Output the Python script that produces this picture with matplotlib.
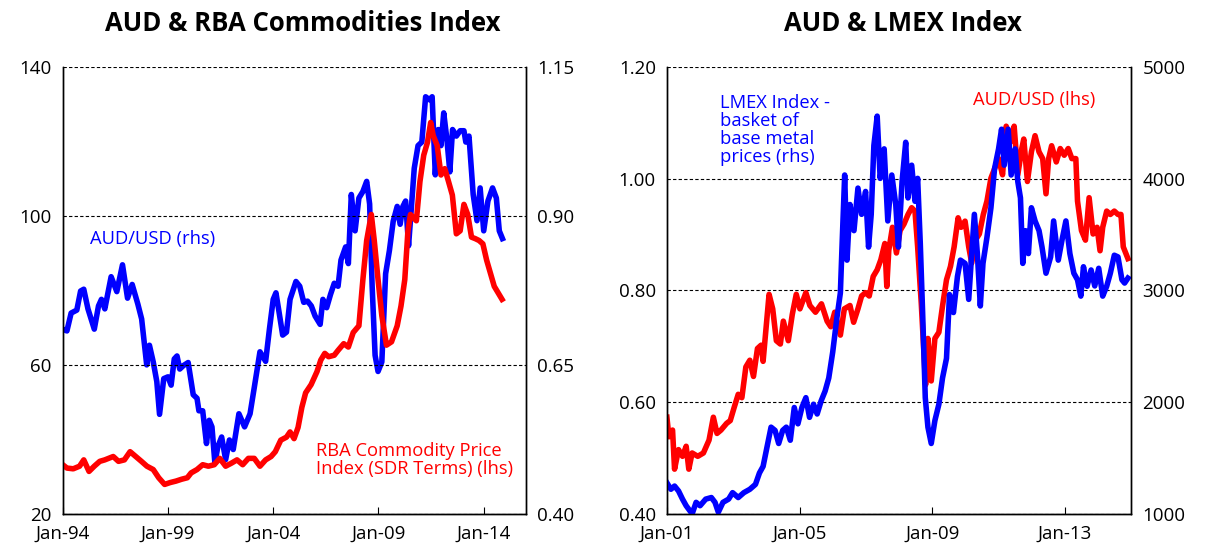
"""
AUD vs commodity prices: two panels with twin axes.
"""
import numpy as np
import matplotlib.pyplot as plt

# ---- left panel: AUD/USD (rhs) and RBA commodity price index (lhs) ----
rba_aud_years = [
    1994.0, 1994.2, 1994.4, 1994.67, 1994.85, 1995.0, 1995.2, 1995.5, 1995.7, 1995.84,
    1996.0, 1996.3, 1996.57, 1996.84, 1997.08, 1997.3, 1997.57, 1997.75, 1997.99, 1998.12,
    1998.3, 1998.47, 1998.6, 1998.8, 1999.0, 1999.15, 1999.3, 1999.43, 1999.56, 1999.74,
    1999.96, 2000.2, 2000.38, 2000.47, 2000.65, 2000.83, 2000.96, 2001.09, 2001.23, 2001.37,
    2001.55, 2001.74, 2001.92, 2002.1, 2002.37, 2002.64, 2002.9, 2003.1, 2003.37, 2003.64,
    2003.82, 2004.0, 2004.13, 2004.28, 2004.45, 2004.63, 2004.8, 2005.08, 2005.26, 2005.45,
    2005.63, 2005.81, 2005.99, 2006.23, 2006.36, 2006.54, 2006.72, 2006.9, 2007.08, 2007.22,
    2007.44, 2007.57, 2007.71, 2007.89, 2008.07, 2008.26, 2008.44, 2008.58, 2008.7, 2008.84,
    2008.98, 2009.16, 2009.34, 2009.52, 2009.7, 2009.89, 2010.03, 2010.16, 2010.29, 2010.43,
    2010.52, 2010.7, 2010.88, 2011.06, 2011.24, 2011.42, 2011.55, 2011.7, 2011.84, 2011.97,
    2012.1, 2012.25, 2012.39, 2012.52, 2012.7, 2012.88, 2013.06, 2013.15, 2013.3, 2013.5,
    2013.68, 2013.83, 2014.0, 2014.2, 2014.42, 2014.6, 2014.74, 2014.89,
]
rba_aud_values = [
    0.710, 0.707, 0.737, 0.742, 0.774, 0.777, 0.744, 0.710, 0.749, 0.760,
    0.744, 0.798, 0.773, 0.818, 0.762, 0.785, 0.752, 0.727, 0.650, 0.683,
    0.655, 0.622, 0.567, 0.627, 0.630, 0.616, 0.660, 0.665, 0.643, 0.649,
    0.654, 0.600, 0.594, 0.573, 0.573, 0.518, 0.557, 0.546, 0.485, 0.513,
    0.529, 0.491, 0.524, 0.508, 0.568, 0.546, 0.568, 0.612, 0.672, 0.656,
    0.710, 0.760, 0.771, 0.738, 0.700, 0.705, 0.760, 0.790, 0.782, 0.755,
    0.757, 0.749, 0.732, 0.718, 0.760, 0.746, 0.768, 0.787, 0.782, 0.826,
    0.848, 0.820, 0.936, 0.875, 0.930, 0.941, 0.958, 0.920, 0.782, 0.666,
    0.639, 0.655, 0.803, 0.842, 0.891, 0.916, 0.886, 0.916, 0.925, 0.850,
    0.893, 0.980, 1.018, 1.024, 1.100, 1.095, 1.100, 0.969, 1.045, 1.018,
    1.073, 1.029, 0.974, 1.045, 1.034, 1.043, 1.043, 1.024, 1.034, 0.936,
    0.892, 0.947, 0.875, 0.925, 0.947, 0.930, 0.875, 0.862,
]

rba_cpi_years = [
    1994.0, 1994.2, 1994.5, 1994.8, 1995.0, 1995.25, 1995.5, 1995.76, 1996.0, 1996.4,
    1996.65, 1996.93, 1997.2, 1997.47, 1997.74, 1998.0, 1998.3, 1998.56, 1998.84, 1999.1,
    1999.38, 1999.65, 1999.92, 2000.1, 2000.38, 2000.65, 2000.92, 2001.2, 2001.46, 2001.74,
    2002.01, 2002.28, 2002.55, 2002.82, 2003.1, 2003.37, 2003.64, 2003.9, 2004.1, 2004.36,
    2004.63, 2004.8, 2004.99, 2005.18, 2005.36, 2005.54, 2005.8, 2006.08, 2006.26, 2006.45,
    2006.63, 2006.9, 2007.08, 2007.35, 2007.57, 2007.8, 2008.07, 2008.26, 2008.44, 2008.66,
    2008.8, 2008.98, 2009.16, 2009.38, 2009.62, 2009.89, 2010.07, 2010.25, 2010.4, 2010.52,
    2010.8, 2010.97, 2011.15, 2011.33, 2011.48, 2011.6, 2011.79, 2011.97, 2012.15, 2012.33,
    2012.51, 2012.7, 2012.88, 2013.06, 2013.24, 2013.42, 2013.6, 2013.78, 2013.96, 2014.14,
    2014.32, 2014.5, 2014.68, 2014.87,
]
rba_cpi_values = [
    33.2, 32.3, 32.1, 32.8, 34.5, 31.4, 32.8, 34.1, 34.5, 35.4,
    34.1, 34.5, 36.7, 35.4, 34.1, 32.8, 31.9, 29.7, 27.9, 28.4,
    28.8, 29.3, 29.7, 31.0, 31.9, 33.2, 32.8, 33.2, 34.9, 32.8,
    33.6, 34.5, 33.2, 34.9, 34.9, 32.8, 34.5, 35.4, 36.7, 39.8,
    40.6, 42.0, 40.2, 43.2, 48.6, 52.5, 54.7, 58.2, 61.3, 63.1,
    62.2, 62.6, 63.9, 65.7, 64.8, 68.7, 70.5, 82.9, 93.4, 100.4,
    93.4, 82.9, 73.2, 65.3, 66.2, 70.5, 75.8, 82.9, 96.0, 100.4,
    98.7, 109.2, 116.3, 119.8, 125.1, 121.6, 118.9, 111.0, 112.7, 109.2,
    105.6, 95.2, 96.0, 103.1, 100.4, 94.3, 93.9, 93.4, 92.5, 88.1,
    84.6, 81.1, 79.4, 77.6,
]

# ---- right panel: AUD/USD (lhs) and LMEX index (rhs) ----
lmex_aud_years = [
    2001.0, 2001.06, 2001.17, 2001.23, 2001.35, 2001.47, 2001.58, 2001.66, 2001.76, 2001.93,
    2002.1, 2002.27, 2002.4, 2002.51, 2002.63, 2002.8, 2002.91, 2003.03, 2003.15, 2003.26,
    2003.38, 2003.5, 2003.61, 2003.73, 2003.84, 2003.9, 2004.08, 2004.19, 2004.3, 2004.42,
    2004.51, 2004.66, 2004.78, 2004.9, 2005.01, 2005.19, 2005.31, 2005.48, 2005.66, 2005.83,
    2005.94, 2006.06, 2006.23, 2006.35, 2006.52, 2006.63, 2006.76, 2006.87, 2006.99, 2007.1,
    2007.22, 2007.34, 2007.45, 2007.57, 2007.63, 2007.69, 2007.8, 2007.92, 2008.03, 2008.15,
    2008.27, 2008.38, 2008.48, 2008.56, 2008.67, 2008.8, 2008.87, 2008.97, 2009.08, 2009.2,
    2009.31, 2009.43, 2009.55, 2009.66, 2009.78, 2009.87, 2009.99, 2010.1, 2010.19, 2010.3,
    2010.42, 2010.54, 2010.65, 2010.77, 2010.88, 2011.0, 2011.12, 2011.23, 2011.35, 2011.47,
    2011.58, 2011.7, 2011.76, 2011.87, 2011.99, 2012.1, 2012.22, 2012.33, 2012.43, 2012.51,
    2012.6, 2012.74, 2012.86, 2012.98, 2013.1, 2013.21, 2013.33, 2013.38, 2013.5, 2013.62,
    2013.73, 2013.85, 2013.97, 2014.06, 2014.14, 2014.26, 2014.37, 2014.49, 2014.6, 2014.69,
    2014.76, 2014.84, 2014.9,
]
lmex_aud_values = [
    0.573, 0.538, 0.550, 0.480, 0.515, 0.503, 0.521, 0.480, 0.509, 0.503,
    0.509, 0.532, 0.573, 0.544, 0.550, 0.562, 0.567, 0.591, 0.614, 0.608,
    0.663, 0.675, 0.646, 0.696, 0.702, 0.673, 0.793, 0.767, 0.710, 0.704,
    0.745, 0.710, 0.757, 0.793, 0.767, 0.796, 0.773, 0.761, 0.776, 0.745,
    0.735, 0.761, 0.720, 0.767, 0.773, 0.743, 0.767, 0.790, 0.796, 0.790,
    0.825, 0.837, 0.855, 0.884, 0.807, 0.872, 0.913, 0.867, 0.907, 0.919,
    0.936, 0.948, 0.942, 0.878, 0.776, 0.631, 0.714, 0.638, 0.714, 0.725,
    0.772, 0.819, 0.843, 0.878, 0.930, 0.913, 0.924, 0.878, 0.849, 0.890,
    0.901, 0.936, 0.960, 1.001, 1.018, 1.036, 1.007, 1.094, 1.065, 1.094,
    1.007, 1.054, 1.071, 0.995, 1.048, 1.077, 1.048, 1.036, 0.973, 1.036,
    1.059, 1.030, 1.054, 1.042, 1.054, 1.036, 1.036, 0.960, 0.907, 0.890,
    0.966, 0.901, 0.913, 0.871, 0.913, 0.942, 0.936, 0.942, 0.936, 0.936,
    0.878, 0.866, 0.857,
]

lmex_years = [
    2001.0, 2001.12, 2001.23, 2001.35, 2001.47, 2001.58, 2001.76, 2001.88, 2002.0, 2002.17,
    2002.34, 2002.45, 2002.55, 2002.69, 2002.86, 2002.98, 2003.15, 2003.32, 2003.5, 2003.67,
    2003.79, 2003.9, 2004.02, 2004.14, 2004.26, 2004.37, 2004.49, 2004.6, 2004.72, 2004.84,
    2004.95, 2005.07, 2005.19, 2005.3, 2005.42, 2005.53, 2005.65, 2005.77, 2005.88, 2006.0,
    2006.12, 2006.23, 2006.29, 2006.36, 2006.43, 2006.52, 2006.64, 2006.76, 2006.87, 2006.99,
    2007.08, 2007.16, 2007.24, 2007.34, 2007.43, 2007.55, 2007.66, 2007.78, 2007.9, 2007.98,
    2008.09, 2008.2, 2008.27, 2008.38, 2008.48, 2008.56, 2008.64, 2008.71, 2008.79, 2008.87,
    2008.97, 2009.08, 2009.2, 2009.31, 2009.43, 2009.52, 2009.64, 2009.76, 2009.85, 2009.99,
    2010.1, 2010.19, 2010.27, 2010.36, 2010.45, 2010.53, 2010.65, 2010.77, 2010.88, 2011.0,
    2011.09, 2011.17, 2011.29, 2011.38, 2011.5, 2011.58, 2011.66, 2011.73, 2011.81, 2011.9,
    2011.99, 2012.1, 2012.22, 2012.31, 2012.43, 2012.57, 2012.66, 2012.8, 2012.91, 2013.03,
    2013.15, 2013.27, 2013.38, 2013.48, 2013.56, 2013.67, 2013.79, 2013.9, 2014.02, 2014.14,
    2014.26, 2014.37, 2014.49, 2014.6, 2014.72, 2014.8, 2014.9,
]
lmex_values = [
    1278, 1220, 1249, 1205, 1132, 1073, 1000, 1103, 1073, 1132,
    1146, 1103, 1015, 1103, 1132, 1190, 1146, 1190, 1220, 1264,
    1366, 1425, 1601, 1776, 1747, 1630, 1747, 1776, 1659, 1952,
    1806, 1952, 2040, 1864, 1981, 1894, 2011, 2099, 2216, 2450,
    2743, 2978, 3476, 4033, 3271, 3769, 3535, 3916, 3681, 3886,
    3388, 3681, 4297, 4560, 4003, 4267, 3622, 4033, 3769, 3388,
    3974, 4326, 3828, 4121, 3798, 4003, 3417, 2802, 2040, 1776,
    1630, 1835, 1981, 2216, 2392, 2963, 2802, 3124, 3271, 3242,
    2920, 3330, 3681, 3330, 2861, 3242, 3476, 3740, 4091, 4267,
    4443, 4121, 4443, 4033, 4267, 3974, 3828, 3242, 3535, 3330,
    3740, 3622, 3535, 3388, 3154, 3300, 3622, 3271, 3447, 3622,
    3330, 3154, 3095, 2949, 3212, 3037, 3183, 3040, 3198, 2949,
    3037, 3154, 3315, 3300, 3095, 3066, 3110,
]

left_xticks = [1994, 1999, 2004, 2009, 2014]
left_xtick_labels = ['Jan-94', 'Jan-99', 'Jan-04', 'Jan-09', 'Jan-14']
left_lhs_ticks = [20, 60, 100, 140]
left_rhs_ticks = [0.40, 0.65, 0.90, 1.15]

right_xticks = [2001, 2005, 2009, 2013]
right_xtick_labels = ['Jan-01', 'Jan-05', 'Jan-09', 'Jan-13']
right_lhs_ticks = [0.40, 0.60, 0.80, 1.00, 1.20]
right_rhs_ticks = [1000, 2000, 3000, 4000, 5000]

BLUE = '#0000FF'
RED = '#FF0000'
LW = 4.0
FONT = ['Open Sans', 'DejaVu Sans']
TICK_SIZE = 13.5
NOTE_SIZE = 13.2


def style_axes(ax, ax2):
    """Spines, ticks and dashed grid shared by both panels."""
    ax.spines['top'].set_visible(False)
    ax2.spines['top'].set_visible(False)
    for sp in ['left', 'right', 'bottom']:
        ax.spines[sp].set_linewidth(1.0)
        ax2.spines[sp].set_linewidth(1.0)
    ax.tick_params(axis='x', direction='in', length=5, labelsize=TICK_SIZE, pad=8)
    ax.tick_params(axis='y', length=0, labelsize=TICK_SIZE, pad=8)
    ax2.tick_params(axis='y', length=0, labelsize=TICK_SIZE, pad=8)
    ax.yaxis.grid(True, linestyle=(0, (3, 2)), color='black', linewidth=0.8)
    ax.set_axisbelow(True)


plt.rcParams['font.family'] = FONT
fig = plt.figure(figsize=(12.06, 5.49), dpi=100)

# ---- left panel ----
ax1 = fig.add_axes([0.052, 0.064, 0.384, 0.814])
ax1b = ax1.twinx()
# red series sits above the blue one in this panel
ax1.set_zorder(ax1b.get_zorder() + 1)
ax1.patch.set_visible(False)
ax1.plot(rba_cpi_years, rba_cpi_values, color=RED, lw=LW, solid_joinstyle='round')
ax1b.plot(rba_aud_years, rba_aud_values, color=BLUE, lw=LW, solid_joinstyle='round')
ax1.set_xlim(1994, 2016)
ax1.set_ylim(20, 140)
ax1b.set_ylim(0.40, 1.15)
ax1.set_xticks(left_xticks)
ax1.set_xticklabels(left_xtick_labels)
ax1.set_yticks(left_lhs_ticks)
ax1.set_yticklabels([str(v) for v in left_lhs_ticks])
ax1b.set_yticks(left_rhs_ticks)
ax1b.set_yticklabels(['%.2f' % v for v in left_rhs_ticks])
style_axes(ax1, ax1b)
ax1.text(0.06, 0.615, 'AUD/USD (rhs)', transform=ax1.transAxes, color=BLUE,
         fontsize=NOTE_SIZE, va='center', ha='left')
ax1.text(0.548, 0.08, 'RBA Commodity Price\nIndex (SDR Terms) (lhs)',
         transform=ax1.transAxes, color=RED, fontsize=NOTE_SIZE, va='bottom',
         ha='left', linespacing=1.0)

# ---- right panel ----
ax2 = fig.add_axes([0.553, 0.064, 0.385, 0.814])
ax2b = ax2.twinx()
ax2.plot(lmex_aud_years, lmex_aud_values, color=RED, lw=LW, solid_joinstyle='round')
ax2b.plot(lmex_years, lmex_values, color=BLUE, lw=LW, solid_joinstyle='round')
ax2.set_xlim(2001, 2015)
ax2.set_ylim(0.40, 1.20)
ax2b.set_ylim(1000, 5000)
ax2.set_xticks(right_xticks)
ax2.set_xticklabels(right_xtick_labels)
ax2.set_yticks(right_lhs_ticks)
ax2.set_yticklabels(['%.2f' % v for v in right_lhs_ticks])
ax2b.set_yticks(right_rhs_ticks)
ax2b.set_yticklabels([str(v) for v in right_rhs_ticks])
style_axes(ax2, ax2b)
ax2.text(0.115, 0.94, 'LMEX Index -\nbasket of\nbase metal\nprices (rhs)',
         transform=ax2.transAxes, color=BLUE, fontsize=NOTE_SIZE, va='top',
         ha='left', linespacing=1.0)
ax2.text(0.66, 0.925, 'AUD/USD (lhs)', transform=ax2.transAxes, color=RED,
         fontsize=NOTE_SIZE, va='center', ha='left')

# titles, centred over each plot box
fig.text(0.251, 0.958, 'AUD & RBA Commodities Index', fontsize=18.5, fontweight='bold',
         ha='center', va='center')
fig.text(0.749, 0.958, 'AUD & LMEX Index', fontsize=18.5, fontweight='bold',
         ha='center', va='center')

fig.savefig('out.png', dpi=100)
plt.close(fig)
